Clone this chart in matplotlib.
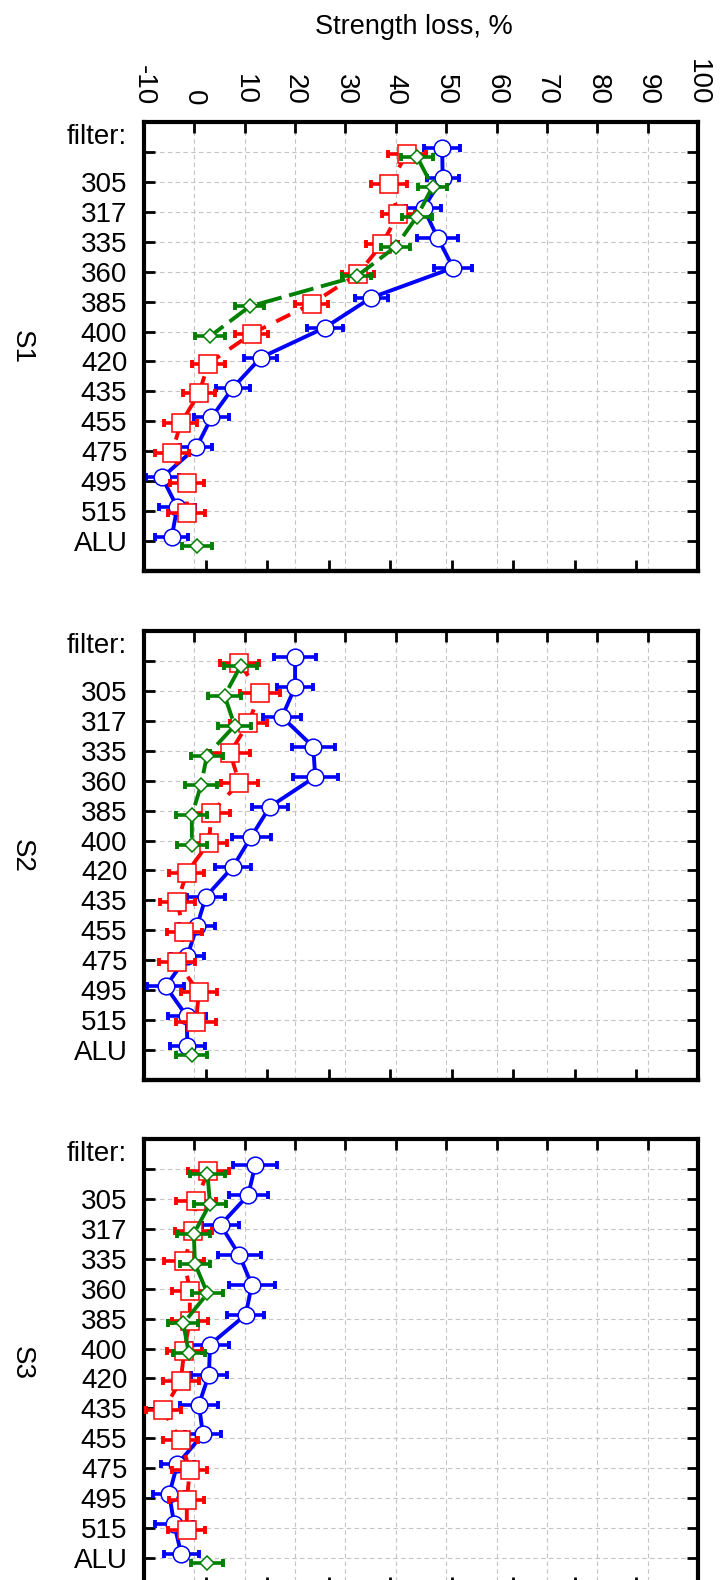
import numpy as np
import matplotlib
matplotlib.use('Agg')
import matplotlib.pyplot as plt

plt.rcParams['font.family'] = ['Liberation Sans', 'DejaVu Sans']
plt.rcParams['axes.unicode_minus'] = False

nan = np.nan

# filter categories (first one is the unfiltered row under the "filter:" header)
categories = ['', '305', '317', '335', '360', '385', '400', '420', '435',
              '455', '475', '495', '515', 'ALU']
x_ticks = [-10, 0, 10, 20, 30, 40, 50, 60, 70, 80, 90, 100]
x_tick_labels = ['-10', '0', '10', '20', '30', '40', '50', '60', '70', '80', '90', '100']
panel_names = ['S1', 'S2', 'S3']

# S1
s1_blue = [49.2, 49.3, 45.5, 48.3, 51.4, 35.1, 25.9, 13.2, 7.7, 3.4, 0.4, -6.4, -3.4, -4.5]
s1_blue_err = [3.6, 3.2, 3.4, 4.0, 3.8, 3.3, 3.6, 3.3, 3.4, 3.4, 3.2, 3.3, 3.6, 3.3]
s1_red = [42.2, 38.7, 40.5, 37.3, 32.5, 23.3, 11.4, 2.8, 0.9, -2.7, -4.5, -1.5, -1.5, nan]
s1_red_err = [3.7, 3.6, 3.3, 3.2, 3.2, 3.3, 3.3, 3.3, 3.2, 3.3, 3.4, 3.4, 3.7, nan]
s1_green = [44.2, 47.3, 44.2, 40.0, 32.2, 11.0, 3.1, nan, nan, nan, nan, nan, nan, 0.6]
s1_green_err = [3.1, 2.9, 3.0, 2.9, 2.9, 2.9, 2.9, nan, nan, nan, nan, nan, nan, 3.0]

# S2
s2_blue = [20.0, 20.0, 17.4, 23.6, 24.0, 15.0, 11.3, 7.7, 2.3, 0.5, -1.4, -5.7, -1.5, -1.4]
s2_blue_err = [4.2, 3.5, 3.7, 4.3, 4.5, 3.6, 3.9, 3.6, 3.7, 3.6, 3.3, 3.7, 3.8, 3.5]
s2_red = [8.9, 13.1, 10.7, 7.1, 8.9, 3.4, 2.9, -1.5, -3.4, -2.0, -3.4, 0.9, 0.3, nan]
s2_red_err = [3.9, 4.0, 3.7, 4.0, 3.7, 3.6, 3.5, 3.5, 3.5, 3.5, 3.6, 3.6, 3.9, nan]
s2_green = [9.2, 6.0, 8.0, 2.5, 1.3, -0.5, -0.5, nan, nan, nan, nan, nan, nan, -0.5]
s2_green_err = [3.3, 3.2, 3.3, 3.2, 3.1, 3.1, 3.0, nan, nan, nan, nan, nan, nan, 3.1]

# S3
s3_blue = [12.1, 10.7, 5.2, 8.9, 11.4, 10.2, 3.1, 2.9, 0.9, 1.7, -3.4, -5.0, -4.0, -2.6]
s3_blue_err = [4.4, 3.9, 3.7, 4.3, 4.6, 3.7, 3.7, 3.6, 3.7, 3.6, 3.3, 3.2, 3.8, 3.5]
s3_red = [2.8, 0.3, -0.2, -2.0, -0.9, -0.9, -2.0, -2.7, -6.2, -2.7, -0.9, -1.5, -1.5, nan]
s3_red_err = [4.1, 4.0, 3.7, 4.0, 3.5, 3.6, 3.5, 3.6, 3.5, 3.5, 3.5, 3.5, 3.7, nan]
s3_green = [2.6, 3.1, -0.1, 0.1, 2.6, -2.2, -1.1, nan, nan, nan, nan, nan, nan, 2.5]
s3_green_err = [3.5, 3.1, 3.3, 3.0, 3.1, 3.0, 3.2, nan, nan, nan, nan, nan, nan, 3.1]

panels = [
    (s1_blue, s1_blue_err, s1_red, s1_red_err, s1_green, s1_green_err),
    (s2_blue, s2_blue_err, s2_red, s2_red_err, s2_green, s2_green_err),
    (s3_blue, s3_blue_err, s3_red, s3_red_err, s3_green, s3_green_err),
]

W, H = 723, 1580
fig = plt.figure(figsize=(W / 100, H / 100), dpi=100)

left, right = 144, 698
tops = [122, 631, 1139]
panel_h = 449

pos = np.arange(len(categories))


def draw_series(ax, vals, errs, color, offset, marker, ms, dashes, z):
    y = pos + offset
    ax.errorbar(vals, y, xerr=errs, fmt='none', ecolor=color, elinewidth=2.6,
                capsize=2.8, capthick=2.8, zorder=z)
    line, = ax.plot(vals, y, color=color, lw=2.8, marker=marker, ms=ms,
                    mfc='white', mec=color, mew=1.1, zorder=z + 0.5)
    if dashes is not None:
        line.set_dashes(dashes)


for i, (name, data) in enumerate(zip(panel_names, panels)):
    blue, blue_err, red, red_err, green, green_err = data
    top = tops[i]
    ax = fig.add_axes([left / W, 1 - (top + panel_h) / H, (right - left) / W, panel_h / H])

    draw_series(ax, blue, blue_err, '#0000ff', -0.13, 'o', 12, None, 2)
    draw_series(ax, red, red_err, '#ff0000', 0.07, 's', 12.5, (4, 3), 3)
    draw_series(ax, green, green_err, '#008000', 0.16, 'D', 7.5, (6.5, 2), 4)

    ax.set_xlim(-10, 100)
    ax.set_ylim(14, -1)

    ax.set_yticks(pos)
    ax.set_yticklabels(categories)
    ax.set_xticks(x_ticks)
    ax.set_xticklabels(x_tick_labels, rotation=270)

    ax.tick_params(axis='y', direction='in', left=True, right=True, length=8, width=2,
                   labelsize=20, pad=12)
    ax.tick_params(axis='x', direction='in', top=True, bottom=False, length=8, width=2,
                   labeltop=(i == 0), labelbottom=False, labelsize=20, pad=12)

    # bottom edge carries its own ticks, splitting the range in nine
    sec = ax.secondary_xaxis('bottom')
    sec.set_xticks(np.linspace(-10, 100, 10)[1:-1])
    sec.tick_params(direction='in', length=8, width=2, labelbottom=False)
    sec.spines['bottom'].set_linewidth(3)

    ax.grid(True, color='#c4c4c4', ls=(0, (4, 3)), lw=0.8)
    ax.set_axisbelow(True)
    for sp in ax.spines.values():
        sp.set_linewidth(3)

    ax.text(-0.031, -0.5, 'filter:', ha='right', va='center', fontsize=20,
            transform=ax.get_yaxis_transform())

    fig.text(22 / W, 1 - (top + panel_h / 2) / H, name, rotation=270,
             ha='center', va='center', fontsize=20)

fig.text(414 / W, 1 - 27 / H, 'Strength loss, %', ha='center', va='center', fontsize=19.5)

fig.savefig('out.png', dpi=100)
